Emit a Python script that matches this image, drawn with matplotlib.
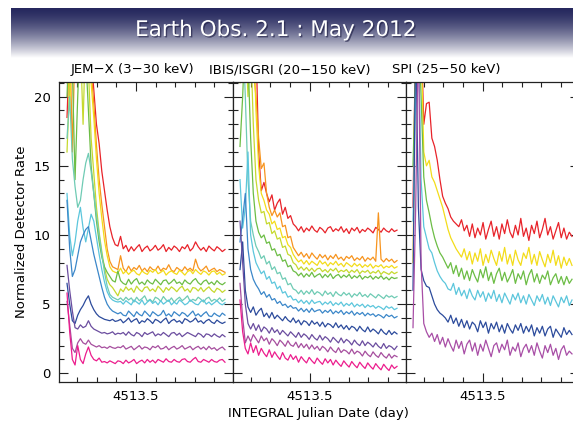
import numpy as np
import matplotlib
matplotlib.use("Agg")
import matplotlib.pyplot as plt
from matplotlib.ticker import FixedLocator, MultipleLocator
import matplotlib.patheffects as pe

# ---------------- data ----------------
title_text = "Earth Obs. 2.1 : May 2012"
panel_titles = ["JEM\u2212X (3\u221230 keV)", "IBIS/ISGRI (20\u2212150 keV)", "SPI (25\u221250 keV)"]
x_label = "INTEGRAL Julian Date (day)"
y_label = "Normalized Detector Rate"
x_major = [4513.5]
x_major_labels = ["4513.5"]
y_major = [0, 5, 10, 15, 20]

# time sampling of each panel (days)
jemx_time = np.linspace(4513.3240, 4513.7270, 60)
ibis_time = np.linspace(4513.3227, 4513.7232, 60)
spi_time = np.linspace(4513.3227, 4513.7283, 60)

# JEM-X
jemx_red = [18.5, 24, 25, 23, 25, 25, 24, 25, 24, 23, 20.5, 18.0, 16.6, 14.6, 13.2, 11.8, 10.6, 9.8, 9.3, 9.2,
            9.9, 9.0, 9.25, 8.8, 9.15, 8.85, 9.1, 9.3, 8.8, 9.05, 9.2, 8.85, 9.0, 9.25, 8.9, 9.05, 9.3, 8.8, 9.1, 8.9,
            9.2, 9.05, 8.8, 9.15, 9.0, 9.3, 8.85, 9.05, 9.5, 9.15, 8.9, 9.1, 8.8, 9.2, 9.0, 8.85, 9.15, 9.0, 8.8, 8.95]
jemx_orange = [21, 25, 16, 24, 25, 22, 25, 24, 25, 22, 19.5, 16.5, 14.0, 12.2, 10.6, 9.0, 8.1, 7.7, 7.6, 7.5,
               8.5, 7.6, 7.35, 7.75, 7.4, 7.65, 7.5, 7.8, 7.4, 7.6, 7.35, 7.7, 7.5, 7.45, 7.75, 7.4, 7.6, 7.5, 7.85, 7.45,
               7.35, 7.65, 7.5, 7.4, 7.7, 7.45, 7.6, 7.4, 8.25, 7.65, 7.4, 7.55, 7.75, 7.35, 7.5, 7.6, 7.35, 7.5, 7.4, 7.3]
jemx_yellow = [25, 19, 25, 24, 21, 25, 23, 25, 24, 21, 18.5, 15.5, 13.0, 11.2, 9.6, 8.5, 7.7, 7.4, 7.3, 7.25,
               7.6, 7.2, 7.4, 7.15, 7.35, 7.45, 7.2, 7.1, 7.4, 7.25, 7.15, 7.45, 7.3, 7.5, 7.2, 7.3, 7.45, 7.1, 7.3, 7.4,
               7.25, 7.15, 7.45, 7.3, 7.1, 7.35, 7.45, 7.2, 7.5, 7.3, 7.15, 7.4, 7.3, 7.1, 7.35, 7.4, 7.15, 7.3, 7.1, 7.2]
jemx_lime = [16, 21, 24, 22, 25, 24, 18, 25, 22, 17, 14.5, 12.0, 10.2, 8.8, 7.6, 6.8, 6.4, 6.2, 5.9, 5.6,
             6.1, 5.9, 6.25, 6.0, 6.15, 5.85, 6.3, 6.05, 5.9, 6.2, 6.25, 5.95, 6.1, 5.9, 6.3, 6.1, 5.85, 6.2, 6.0, 6.25,
             6.1, 5.9, 6.15, 6.3, 5.95, 6.1, 5.85, 6.2, 6.15, 5.95, 6.2, 5.9, 6.1, 6.25, 6.0, 5.85, 6.15, 6.05, 5.85, 6.0]
jemx_green = [20, 25, 22, 14, 20, 25, 21, 23, 19, 15, 13, 11, 9.5, 8.4, 7.7, 7.3, 7.0, 6.7, 6.6, 7.4,
              6.7, 6.5, 6.4, 6.8, 6.45, 6.7, 6.85, 6.45, 6.6, 6.4, 6.75, 6.55, 6.45, 6.8, 6.6, 6.4, 6.7, 6.75, 6.45, 6.6,
              6.8, 6.5, 6.6, 6.4, 6.75, 6.55, 6.45, 6.7, 6.85, 6.55, 6.4, 6.65, 6.75, 6.45, 6.6, 6.4, 6.7, 6.5, 6.4, 6.55]
jemx_teal = [17, 20, 15.5, 13.5, 12.0, 12.5, 14.0, 15.2, 15.9, 14.6, 13.0, 11.4, 10.0, 8.6, 7.3, 6.3, 5.7, 5.5, 5.4, 5.3,
             5.45, 5.25, 5.5, 5.3, 5.45, 5.15, 5.5, 5.25, 5.4, 5.6, 5.2, 5.35, 5.15, 5.5, 5.4, 5.2, 5.55, 5.3, 5.2, 5.45,
             5.15, 5.35, 5.5, 5.25, 5.4, 5.6, 5.2, 5.35, 5.25, 5.5, 5.35, 5.15, 5.4, 5.5, 5.2, 5.35, 5.25, 5.45, 5.2, 5.35]
jemx_cyan = [13, 10, 8.5, 9.5, 11, 12, 10.5, 9.5, 10.5, 11.5, 11.0, 9.8, 8.6, 7.5, 6.6, 5.9, 5.5, 5.3, 5.2, 5.15,
             5.2, 5.0, 5.25, 5.1, 4.95, 5.3, 5.15, 5.0, 5.3, 4.95, 5.15, 5.3, 5.05, 5.2, 4.95, 5.25, 5.0, 5.15, 5.3, 4.95,
             5.15, 5.0, 5.3, 5.15, 4.95, 5.05, 5.3, 5.15, 5.0, 4.95, 5.2, 5.3, 5.0, 5.15, 4.95, 5.1, 5.25, 5.05, 4.95, 5.1]
jemx_blue = [12.5, 9.0, 7.0, 7.5, 8.5, 9.5, 10.0, 10.4, 10.6, 9.6, 8.6, 7.8, 7.0, 6.2, 5.5, 5.0, 4.7, 4.5, 4.4, 4.3,
             4.4, 4.2, 4.15, 4.5, 4.3, 4.1, 4.45, 4.25, 4.15, 4.5, 4.3, 4.1, 4.45, 4.3, 4.15, 4.25, 4.55, 4.15, 4.3, 4.1,
             4.45, 4.3, 4.15, 4.4, 4.3, 4.1, 4.3, 4.5, 4.15, 4.3, 4.1, 4.3, 4.45, 4.15, 4.1, 4.35, 4.2, 4.1, 4.35, 4.2]
jemx_darkblue = [6.5, 5.0, 3.8, 3.6, 4.2, 4.6, 4.9, 5.3, 5.6, 5.0, 4.6, 4.3, 4.1, 4.0, 3.9, 3.85, 3.8, 3.9, 3.75, 3.8,
                 3.9, 3.65, 3.8, 4.0, 3.7, 3.85, 3.95, 3.6, 3.8, 3.7, 3.95, 3.8, 3.6, 3.9, 3.8, 3.65, 3.85, 4.0, 3.6, 3.8,
                 3.9, 3.7, 3.8, 3.6, 3.95, 3.85, 3.7, 3.8, 4.0, 3.7, 3.8, 3.6, 3.8, 3.9, 3.7, 3.6, 3.85, 3.7, 3.6, 3.7]
jemx_purple = [7.8, 6.0, 4.5, 3.3, 3.2, 3.5, 3.3, 3.4, 3.8, 3.4, 3.2, 3.1, 3.0, 2.9, 2.95, 2.85, 2.9, 3.0, 2.8, 2.9,
               2.85, 2.95, 2.75, 3.0, 2.8, 2.7, 2.95, 2.85, 2.65, 2.95, 2.8, 2.9, 3.0, 2.7, 2.85, 2.75, 2.95, 2.8, 2.65, 2.9,
               2.95, 2.75, 2.9, 2.65, 2.8, 2.95, 2.85, 2.75, 2.65, 2.9, 2.8, 2.6, 2.85, 2.8, 2.65, 2.85, 2.7, 2.6, 2.8, 2.65]
jemx_violet = [5.2, 3.5, 1.8, 1.5, 2.2, 2.5, 2.2, 2.1, 2.4, 2.1, 2.0, 1.9, 2.0, 1.85, 1.9, 1.8, 1.95, 1.85, 1.8, 1.9,
               1.85, 2.0, 1.75, 1.85, 1.95, 1.7, 1.85, 2.0, 1.75, 1.9, 1.85, 1.7, 1.95, 1.85, 2.0, 1.75, 1.8, 1.95, 1.7, 1.85,
               1.95, 1.75, 1.85, 2.0, 1.75, 1.85, 1.95, 1.7, 1.85, 1.95, 1.75, 1.9, 1.7, 1.95, 1.75, 1.85, 1.65, 1.8, 1.9, 1.7]
jemx_pink = [5.8, 3.0, 1.0, 0.6, 2.0, 1.0, 0.7, 1.4, 1.9, 1.3, 1.0, 0.9, 1.1, 0.8, 0.85, 0.75, 0.9, 0.8, 0.7, 0.9,
             0.85, 0.7, 0.95, 0.75, 0.85, 1.0, 0.7, 0.85, 0.95, 0.75, 1.0, 0.8, 0.95, 0.75, 1.0, 0.9, 0.8, 1.05, 0.85, 0.8,
             1.0, 0.85, 0.8, 1.0, 1.05, 0.85, 0.8, 1.0, 1.15, 0.85, 0.8, 1.0, 0.9, 0.8, 1.0, 0.85, 0.8, 0.95, 1.0, 0.8]

# IBIS/ISGRI
ibis_red = [22, 25, 24, 25, 23, 25, 24, 16, 13.2, 13.8, 13.0, 12.4, 12.9, 11.8, 12.3, 12.6, 11.5, 12.0, 11.2, 11.4,
            10.8, 10.6, 10.3, 10.6, 10.2, 10.5, 10.3, 10.65, 10.35, 10.2, 10.55, 10.4, 10.15, 10.5, 10.6, 10.25, 10.45, 10.3, 10.6, 10.2,
            10.45, 10.1, 10.5, 10.3, 10.55, 10.15, 10.4, 10.25, 10.5, 10.35, 10.15, 10.55, 10.4, 10.2, 10.5, 10.3, 10.2, 10.45, 10.25, 10.35]
ibis_orange = [25, 23, 25, 24, 25, 22, 20, 17, 14.8, 15.2, 13.0, 12.0, 11.4, 11.8, 11.3, 11.6, 10.6, 10.7, 9.8, 9.9,
               9.1, 8.8, 8.5, 8.75, 8.4, 8.65, 8.3, 8.7, 8.45, 8.25, 8.6, 8.35, 8.55, 8.2, 8.5, 8.3, 8.6, 8.25, 8.4, 8.15,
               8.45, 8.3, 8.5, 8.15, 8.35, 8.2, 8.45, 8.1, 8.35, 8.2, 8.4, 8.1, 11.6, 8.25, 8.05, 8.3, 8.1, 8.25, 8.0, 8.15]
ibis_yellow = [24, 25, 22, 25, 23, 25, 19, 15, 13.0, 12.5, 11.8, 11.5, 10.8, 11.0, 10.4, 10.5, 9.8, 9.9, 9.3, 9.1,
               8.6, 8.3, 8.05, 8.2, 7.9, 8.15, 7.85, 8.1, 7.95, 7.8, 8.15, 7.9, 8.05, 7.75, 8.0, 7.85, 8.1, 7.8, 7.95, 7.7,
               8.0, 7.85, 7.7, 7.95, 7.75, 7.9, 7.65, 7.85, 7.7, 7.9, 7.6, 7.8, 7.7, 7.85, 7.6, 7.75, 7.65, 7.8, 7.6, 7.7]
ibis_lime = [21, 24, 25, 20, 24, 18, 14, 12.5, 11.6, 11.7, 10.8, 10.9, 10.1, 10.3, 9.7, 9.8, 9.1, 9.2, 8.6, 8.5,
             8.0, 7.85, 7.5, 7.7, 7.45, 7.65, 7.4, 7.6, 7.35, 7.55, 7.6, 7.35, 7.5, 7.3, 7.55, 7.4, 7.6, 7.3, 7.45, 7.35,
             7.5, 7.25, 7.45, 7.3, 7.5, 7.2, 7.4, 7.3, 7.45, 7.2, 7.35, 7.25, 7.45, 7.15, 7.35, 7.25, 7.15, 7.35, 7.2, 7.3]
ibis_green = [16.4, 20, 25, 23, 17, 13, 11, 10.2, 9.8, 10.0, 9.4, 9.5, 8.9, 9.0, 8.5, 8.6, 8.1, 8.2, 7.7, 7.8,
              7.4, 7.3, 7.05, 7.25, 6.95, 7.2, 7.0, 7.3, 6.95, 7.1, 7.2, 6.9, 7.15, 6.95, 7.2, 6.85, 7.05, 7.15, 6.9, 7.1,
              6.95, 7.15, 6.85, 7.05, 6.9, 7.1, 6.8, 7.0, 6.9, 7.05, 6.8, 7.0, 6.85, 7.05, 6.8, 6.95, 6.75, 6.95, 6.85, 6.9]
ibis_teal = [22, 25, 20, 14, 11, 10, 9.2, 8.8, 8.3, 8.5, 7.9, 8.1, 7.5, 7.7, 7.2, 7.3, 6.8, 6.9, 6.4, 6.5,
             6.1, 6.0, 5.75, 6.0, 5.7, 5.95, 5.75, 6.05, 5.7, 5.9, 5.8, 5.6, 5.95, 5.7, 5.85, 5.55, 5.9, 5.7, 5.6, 5.85,
             5.65, 5.8, 5.5, 5.75, 5.6, 5.85, 5.55, 5.7, 5.5, 5.75, 5.6, 5.45, 5.7, 5.55, 5.4, 5.65, 5.5, 5.6, 5.45, 5.55]
ibis_cyan = [14, 10.5, 12, 16, 10, 8.8, 8.0, 7.6, 7.2, 7.4, 6.8, 7.0, 6.5, 6.6, 6.1, 6.3, 5.8, 5.9, 5.5, 5.6,
             5.3, 5.35, 5.1, 5.3, 5.05, 5.25, 5.0, 5.3, 5.05, 5.15, 5.2, 4.95, 5.15, 5.0, 5.2, 4.9, 5.1, 4.95, 5.15, 4.85,
             5.05, 4.9, 5.1, 4.8, 5.0, 4.85, 5.0, 4.75, 4.95, 4.8, 4.9, 4.7, 4.85, 4.75, 4.6, 4.85, 4.7, 4.8, 4.6, 4.7]
ibis_blue = [9.5, 11.2, 13, 9.0, 7.5, 6.8, 6.4, 6.1, 5.7, 5.9, 5.5, 5.7, 5.3, 5.4, 5.05, 5.2, 4.9, 5.0, 4.75, 4.9,
             4.7, 4.75, 4.5, 4.7, 4.45, 4.65, 4.4, 4.7, 4.45, 4.55, 4.6, 4.35, 4.55, 4.4, 4.6, 4.3, 4.5, 4.35, 4.55, 4.25,
             4.45, 4.3, 4.5, 4.2, 4.4, 4.25, 4.4, 4.15, 4.35, 4.2, 4.3, 4.1, 4.25, 4.15, 4.0, 4.25, 4.1, 4.2, 4.0, 4.1]
ibis_darkblue = [7.5, 9.5, 6.0, 4.8, 4.4, 4.8, 4.2, 4.5, 4.7, 4.1, 4.35, 4.0, 4.4, 3.95, 4.2, 4.0, 3.8, 4.1, 3.85, 3.7,
                 4.0, 3.65, 3.85, 3.5, 3.8, 3.7, 3.45, 3.8, 3.55, 3.7, 3.4, 3.7, 3.35, 3.6, 3.5, 3.3, 3.65, 3.3, 3.5, 3.2,
                 3.45, 3.15, 3.4, 3.3, 3.05, 3.4, 3.15, 3.0, 3.35, 3.0, 3.2, 3.05, 2.85, 3.2, 2.95, 2.8, 3.1, 2.8, 3.0, 2.85]
ibis_purple = [11, 8.0, 5.0, 3.6, 3.2, 3.6, 3.1, 3.5, 3.0, 3.35, 3.2, 2.9, 3.3, 2.95, 3.15, 2.8, 3.1, 2.9, 2.7, 3.0,
               2.8, 2.6, 2.95, 2.6, 2.85, 2.7, 2.45, 2.8, 2.55, 2.4, 2.75, 2.4, 2.65, 2.5, 2.25, 2.6, 2.4, 2.2, 2.55, 2.2,
               2.45, 2.3, 2.05, 2.4, 2.15, 2.0, 2.35, 2.0, 2.25, 2.1, 1.9, 2.2, 1.95, 1.8, 2.15, 1.8, 2.0, 1.9, 1.7, 1.95]
ibis_violet = [6.5, 4.0, 2.2, 2.7, 2.3, 2.8, 2.5, 2.2, 2.7, 2.35, 2.55, 2.1, 2.5, 2.3, 2.0, 2.4, 2.2, 1.95, 2.35, 2.05,
               1.95, 2.25, 1.85, 2.15, 1.85, 2.1, 1.75, 2.05, 1.75, 1.95, 1.65, 1.95, 1.8, 1.55, 1.9, 1.65, 1.5, 1.85, 1.5, 1.7,
               1.6, 1.4, 1.75, 1.4, 1.6, 1.5, 1.25, 1.6, 1.35, 1.2, 1.55, 1.3, 1.15, 1.5, 1.25, 1.1, 1.4, 1.1, 1.3, 1.2]
ibis_pink = [5.3, 3.0, 1.8, 1.4, 2.2, 1.5, 2.0, 1.3, 1.8, 1.45, 1.2, 1.7, 1.15, 1.55, 1.25, 1.0, 1.5, 1.1, 0.95, 1.35,
             1.0, 1.25, 0.8, 1.2, 0.95, 0.75, 1.15, 0.9, 0.7, 1.1, 0.85, 0.65, 1.05, 0.75, 1.0, 0.6, 0.95, 0.7, 0.5, 0.9,
             0.65, 0.45, 0.85, 0.6, 0.4, 0.8, 0.55, 0.35, 0.75, 0.5, 0.3, 0.7, 0.45, 0.25, 0.65, 0.4, 0.2, 0.6, 0.35, 0.5]

# SPI
spi_red = [12, 25, 24, 25, 18, 19.5, 19.6, 17.0, 16.4, 15.4, 14.0, 12.8, 12.3, 11.9, 11.3, 11.0, 10.8, 10.6, 11.1, 10.3,
           10.7, 9.9, 10.8, 9.8, 10.5, 10.0, 10.9, 9.7, 10.4, 11.0, 9.9, 10.6, 9.7, 10.8, 10.1, 11.1, 10.2, 9.8, 10.7, 10.0,
           11.2, 9.9, 10.5, 9.6, 10.7, 10.1, 11.0, 9.8, 10.4, 11.2, 10.0, 10.6, 9.7, 10.3, 10.9, 9.8, 10.5, 9.7, 10.2, 9.9]
spi_yellow = [8, 25, 22, 24, 16, 15, 15.4, 14.2, 13.8, 13.2, 12.6, 12.0, 11.2, 10.4, 9.8, 9.4, 9.0, 8.7, 8.4, 9.0,
              8.2, 8.8, 7.9, 8.7, 8.1, 9.0, 7.8, 8.6, 8.0, 8.9, 8.3, 7.8, 8.8, 8.1, 9.1, 7.9, 8.6, 7.8, 8.9, 8.2,
              7.8, 8.7, 8.3, 9.1, 7.9, 8.6, 7.8, 8.8, 8.2, 7.7, 8.6, 8.0, 8.9, 7.8, 8.5, 7.6, 8.4, 7.8, 8.3, 7.8]
spi_green = [15, 22, 25, 20, 14.2, 12.5, 11.6, 10.6, 9.8, 9.2, 8.7, 8.4, 8.0, 7.6, 8.0, 7.2, 7.8, 7.0, 7.6, 6.8,
             7.4, 6.7, 7.5, 7.0, 6.6, 7.5, 6.9, 7.7, 6.7, 7.3, 6.5, 7.2, 7.6, 6.7, 7.3, 6.6, 7.0, 7.5, 6.5, 7.2,
             6.8, 7.4, 6.4, 7.1, 7.5, 6.6, 7.2, 6.5, 7.1, 6.8, 7.4, 6.4, 6.9, 7.2, 6.5, 7.0, 6.4, 7.0, 6.5, 6.8]
spi_cyan = [11, 20, 25, 14, 10.6, 9.8, 9.0, 8.7, 8.0, 7.4, 7.0, 6.7, 6.5, 6.1, 6.0, 6.5, 5.7, 6.2, 5.6, 6.0,
            5.4, 6.1, 5.6, 5.3, 6.0, 5.5, 5.9, 5.2, 5.8, 5.4, 6.0, 5.2, 5.7, 5.1, 5.8, 5.4, 5.0, 5.7, 5.3, 5.8,
            5.1, 5.6, 5.0, 5.7, 5.3, 4.9, 5.6, 5.2, 5.7, 5.0, 5.5, 4.9, 5.6, 5.2, 4.8, 5.5, 5.1, 5.6, 4.9, 5.3]
spi_darkblue = [6, 25, 12, 7.5, 6.7, 6.3, 6.2, 5.6, 5.0, 4.6, 4.35, 4.2, 4.0, 3.7, 4.2, 3.6, 4.0, 3.4, 3.9, 3.3,
                3.8, 3.2, 3.7, 3.5, 3.0, 3.8, 3.3, 3.7, 2.9, 3.6, 3.2, 3.7, 3.0, 3.5, 2.9, 3.6, 3.2, 2.9, 3.5, 3.1,
                3.6, 2.9, 3.4, 3.0, 3.5, 2.7, 3.3, 2.9, 3.4, 2.7, 3.2, 3.4, 2.6, 3.2, 2.9, 2.6, 3.3, 2.8, 3.1, 2.8]
spi_magenta = [3.3, 12, 25, 8, 3.6, 3.0, 2.6, 2.9, 2.3, 2.8, 2.1, 2.6, 1.9, 2.5, 2.0, 1.6, 2.4, 1.8, 2.3, 1.4,
               2.1, 2.4, 1.6, 2.2, 1.3, 2.1, 1.6, 2.4, 1.8, 1.2, 2.0, 2.2, 1.5, 2.1, 1.7, 2.4, 1.3, 1.9, 1.6, 2.2,
               1.2, 1.8, 2.1, 1.5, 2.0, 1.3, 2.2, 1.6, 1.1, 2.0, 1.5, 2.1, 1.3, 1.8, 1.0, 1.7, 2.0, 1.3, 1.6, 1.4]

# ---------------- styling ----------------
C = {
    "red": "#e8232a", "orange": "#f7941e", "yellow": "#f3dc1a", "lime": "#c6d92e",
    "green": "#6cbd45", "teal": "#6fcbb4", "cyan": "#5cc6dc", "blue": "#3b87c9",
    "darkblue": "#2c4b9c", "purple": "#6b4d9f", "violet": "#a64e9e", "pink": "#ec1d8d",
    "magenta": "#a84ea6",
}

panels = [
    (jemx_time, [("red", jemx_red), ("orange", jemx_orange), ("yellow", jemx_yellow),
                 ("lime", jemx_lime), ("green", jemx_green), ("teal", jemx_teal),
                 ("cyan", jemx_cyan), ("blue", jemx_blue), ("darkblue", jemx_darkblue),
                 ("purple", jemx_purple), ("violet", jemx_violet), ("pink", jemx_pink)]),
    (ibis_time, [("red", ibis_red), ("orange", ibis_orange), ("yellow", ibis_yellow),
                 ("lime", ibis_lime), ("green", ibis_green), ("teal", ibis_teal),
                 ("cyan", ibis_cyan), ("blue", ibis_blue), ("darkblue", ibis_darkblue),
                 ("purple", ibis_purple), ("violet", ibis_violet), ("pink", ibis_pink)]),
    (spi_time, [("red", spi_red), ("yellow", spi_yellow), ("green", spi_green),
                ("cyan", spi_cyan), ("darkblue", spi_darkblue), ("magenta", spi_magenta)]),
]

W, H = 573, 422
fig = plt.figure(figsize=(W / 100, H / 100), dpi=100)
fig.patch.set_facecolor("white")

# banner
bax = fig.add_axes([11 / W, 1 - 58 / H, 1 - 11 / W, 50 / H])
t = np.linspace(0, 1, 100) ** 1.5
dark = np.array([0.15, 0.16, 0.37])
grad = dark[None, :] * (1 - t[:, None]) + np.ones(3)[None, :] * t[:, None]
bax.imshow(grad[:, None, :], aspect="auto", extent=[0, 1, 0, 1], interpolation="bilinear")
bax.set_axis_off()
fig.text(276 / W, 1 - 30 / H, title_text, color="white", fontsize=15.5,
         ha="center", va="center", family="DejaVu Sans",
         path_effects=[pe.withSimplePatchShadow(offset=(1, -1), shadow_rgbFace="#1a1a40", alpha=0.6)])

lefts = [59, 232.5, 405.5]
width = 173.5
ax_bottom = 1 - 382 / H
ax_height = 300 / H
xlim = (4513.5 - 77 / 392, 4513.5 - 77 / 392 + width / 392)
title_x = [132, 290, 446]

for k, (tarr, series) in enumerate(panels):
    ax = fig.add_axes([lefts[k] / W, ax_bottom, width / W, ax_height])
    for cname, vals in series:
        ax.plot(tarr, vals, color=C[cname], lw=0.9)
    ax.set_xlim(*xlim)
    ax.set_ylim(-0.63, 21.06)
    ax.xaxis.set_major_locator(FixedLocator(x_major))
    ax.set_xticklabels(x_major_labels)
    ax.xaxis.set_minor_locator(MultipleLocator(0.05))
    ax.yaxis.set_major_locator(FixedLocator(y_major))
    ax.yaxis.set_minor_locator(MultipleLocator(1))
    ax.tick_params(which="both", direction="in", top=True, right=True, color="#222222", width=0.8)
    ax.tick_params(which="major", length=6.5, labelsize=9.5, pad=6)
    ax.tick_params(which="minor", length=3.3)
    if k > 0:
        ax.tick_params(labelleft=False)
    for s in ax.spines.values():
        s.set_color("#222222")
        s.set_linewidth(0.9)
    fig.text(title_x[k] / W, 1 - 70 / H, panel_titles[k], fontsize=9.5, ha="center", va="center")

fig.text(22 / W, 1 - 232 / H, y_label, rotation=90, fontsize=9.5, ha="center", va="center")
fig.text(318 / W, 1 - 413 / H, x_label, fontsize=9.5, ha="center", va="center")

fig.savefig("out.png", dpi=100)
